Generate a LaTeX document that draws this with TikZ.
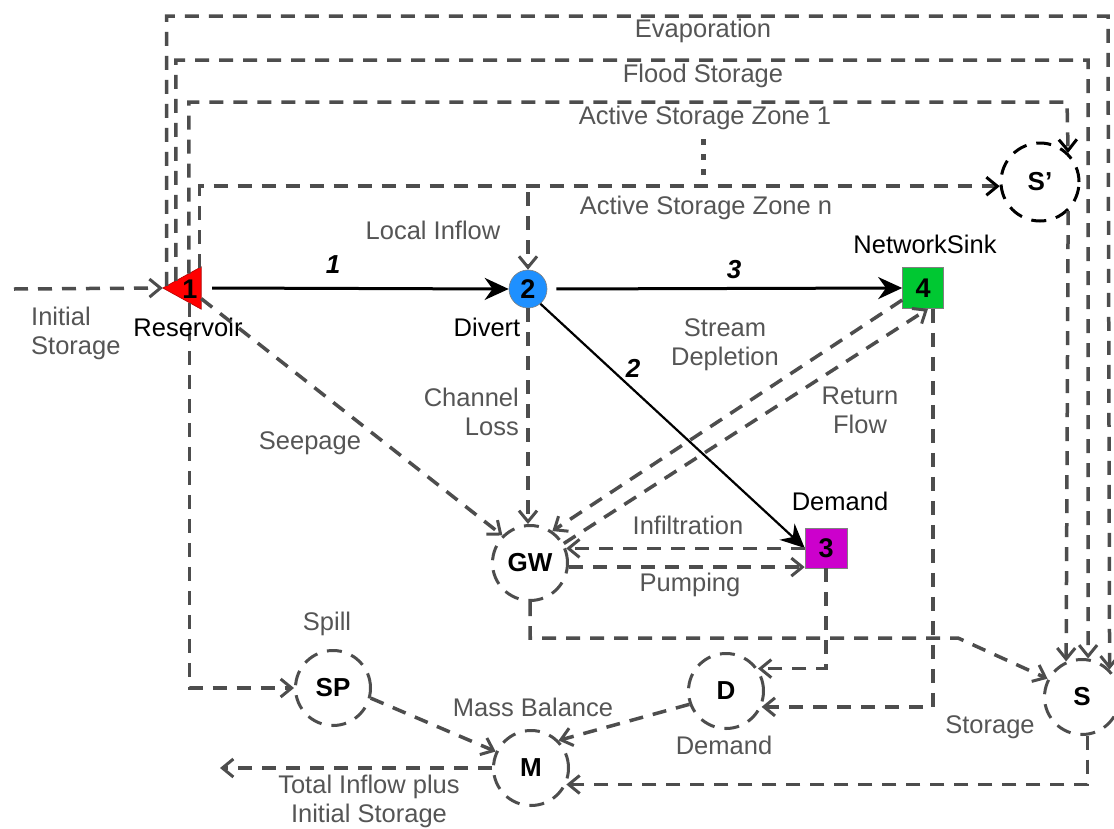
\documentclass[tikz,border=0pt]{standalone}
\usepackage{fontspec}
\setmainfont{Liberation Sans}
\usetikzlibrary{arrows.meta,calc}
\definecolor{lg}{HTML}{4D4D4D}
\definecolor{tg}{HTML}{555555}
\definecolor{nblue}{HTML}{1E90FF}
\definecolor{ngreen}{HTML}{00C832}
\definecolor{nmag}{HTML}{CC00CC}
\begin{document}
\begin{tikzpicture}[x=1pt,y=-1pt,
  barb/.tip={Straight Barb[length=11pt,width=18pt,line width=3pt]},
  dline/.style={draw=lg, line width=3.5pt, dash pattern=on 14pt off 10pt, -barb},
  dlineb/.style={dline, -{Straight Barb[length=11pt,width=18pt,line width=3pt,color=black]}},
  sarrow/.style={draw=black, line width=3pt, -{Stealth[length=24pt,width=22pt]}},
  lbl/.style={text=tg, font=\fontsize{25.5}{29}\selectfont, align=center, inner sep=0pt},
  blbl/.style={text=black, font=\fontsize{25.5}{29}\selectfont, align=center, inner sep=0pt},
  elbl/.style={text=black, font=\bfseries\itshape\fontsize{26}{29}\selectfont, inner sep=0pt},
  cnode/.style={circle, draw=lg, line width=3pt, dash pattern=on 15pt off 10pt, minimum size=75pt, inner sep=0pt, font=\bfseries\fontsize{26}{29}\selectfont},
  numf/.style={font=\bfseries\fontsize{27}{29}\selectfont, inner sep=0pt}
]
\useasboundingbox[fill=white] (0,0) rectangle (1114,828);

% main nodes
\node[minimum width=38pt, minimum height=42pt, inner sep=0pt] (res) at (182,288) {};
\fill[red, draw=red!70!black, line width=0.6pt] (res.west) -- (res.north east) -- (res.south east) -- cycle;
\node[numf] (res1) at (190,289) {1};
\node[circle, fill=nblue, draw=gray, line width=0.6pt, minimum size=38pt, numf] (n2) at (528,289) {2};
\node[rectangle, fill=ngreen, draw=gray, line width=0.6pt, minimum width=41pt, minimum height=41pt, numf] (n4) at (923,288) {4};
\node[rectangle, fill=nmag, draw=gray, line width=0.6pt, minimum width=42pt, minimum height=40pt, numf] (n3) at (826,548) {3};

\node[cnode] (GW) at (530,563) {GW};
\node[cnode] (SP) at (333,688) {SP};
\node[cnode] (M) at (531,768) {M};
\node[cnode] (D) at (726,691) {D};
\node[cnode] (S) at (1082,697) {S};
\node[cnode, draw=black, minimum size=78pt] (Sp) at (1040,182) {S’};

\coordinate (init) at (14,289);
\coordinate (li) at (528,192);
\coordinate (gs) at (958,638);
\coordinate (out) at (220,768);

% storage loops
\draw[dline] ($(res.west)!0.1!(res.north east)$) |- (1108,16) -- (S.45);
\draw[dline] ($(res.west)!0.34!(res.north east)$) |- (1088,60) -- (S.81);
\draw[dlineb] ($(res.west)!0.68!(res.north east)$) |- (1067,102) -- (Sp.46);
\draw[dlineb] ($(res.west)!0.95!(res.north east)$) |- (Sp.186);
\draw[dline] (Sp.-46) -- (S.114);
\draw[draw=lg, line width=5pt, dash pattern=on 6pt off 9pt] (703,139) -- (703,178);

% inflows
\draw[dline] (init) -- (res.west);
\draw[dline] (li) -- (n2.north);

% solid links
\draw[sarrow] ([xshift=11pt]res.east) -- (n2.west);
\draw[sarrow, shorten <=9pt] (n2.east) -- (n4.west);
\draw[sarrow, line width=2.2pt] (n2.-50) -- (n3.west);

% losses
\draw[dline] ($(res.west)!0.7!(res.south east)$) |- (SP.west);
\draw[dline] ($(res.north east)!0.75!(res.south east)$) -- (GW.135);
\draw[dline] (n2.south) -- (n2.south |- GW.north);
\draw[dline] (n4.210) -- (GW.55);
\draw[dline] (GW.30) -- ([xshift=5pt]n4.south);
\draw[dline] (n3.west |- GW.22) -- (GW.22);
\draw[dline] (GW.-6) -- (n3.west |- GW.-6);
\draw[dline] (GW.south) |- (gs) -- (S.152);
\draw[dline] (n3.south) |- (D.35);
\draw[dline] ([xshift=10pt]n4.south) |- (D.-24);
\draw[dline] (D.200) -- (M.45);
\draw[dline] (SP.-15) -- (M.155);
\draw[dline] (S.-82) |- (M.-25);
\draw[dline] (M.west) -- (out);

% labels
\node[lbl] at (703,31) {Evaporation};
\node[lbl] at (703,76) {Flood Storage};
\node[lbl] at (705,118) {Active Storage Zone 1};
\node[lbl] at (706,208) {Active Storage Zone n};
\node[lbl, align=left, anchor=west] at (31,333) {Initial\\Storage};
\node[blbl] at (188,327) {Reservoir};
\node[blbl] at (487,327) {Divert};
\node[blbl] at (925,244) {NetworkSink};
\node[blbl] at (840,501) {Demand};
\node[elbl] at (333,265) {1};
\node[elbl] at (734,270) {3};
\node[elbl] at (633,368) {2};
\node[lbl] at (433,230) {Local Inflow};
\node[lbl] at (725,345) {Stream\\Depletion};
\node[lbl, align=right, anchor=east] at (519,412) {Channel\\Loss};
\node[lbl] at (310,443) {Seepage};
\node[lbl] at (860,410) {Return\\Flow};
\node[lbl] at (688,525) {Infiltration};
\node[lbl] at (690,585) {Pumping};
\node[lbl] at (327,624) {Spill};
\node[lbl] at (533,707) {Mass Balance};
\node[lbl] at (724,745) {Demand};
\node[lbl] at (990,727) {Storage};
\node[lbl] at (369,801) {Total Inflow plus\\Initial Storage};
\end{tikzpicture}
\end{document}
